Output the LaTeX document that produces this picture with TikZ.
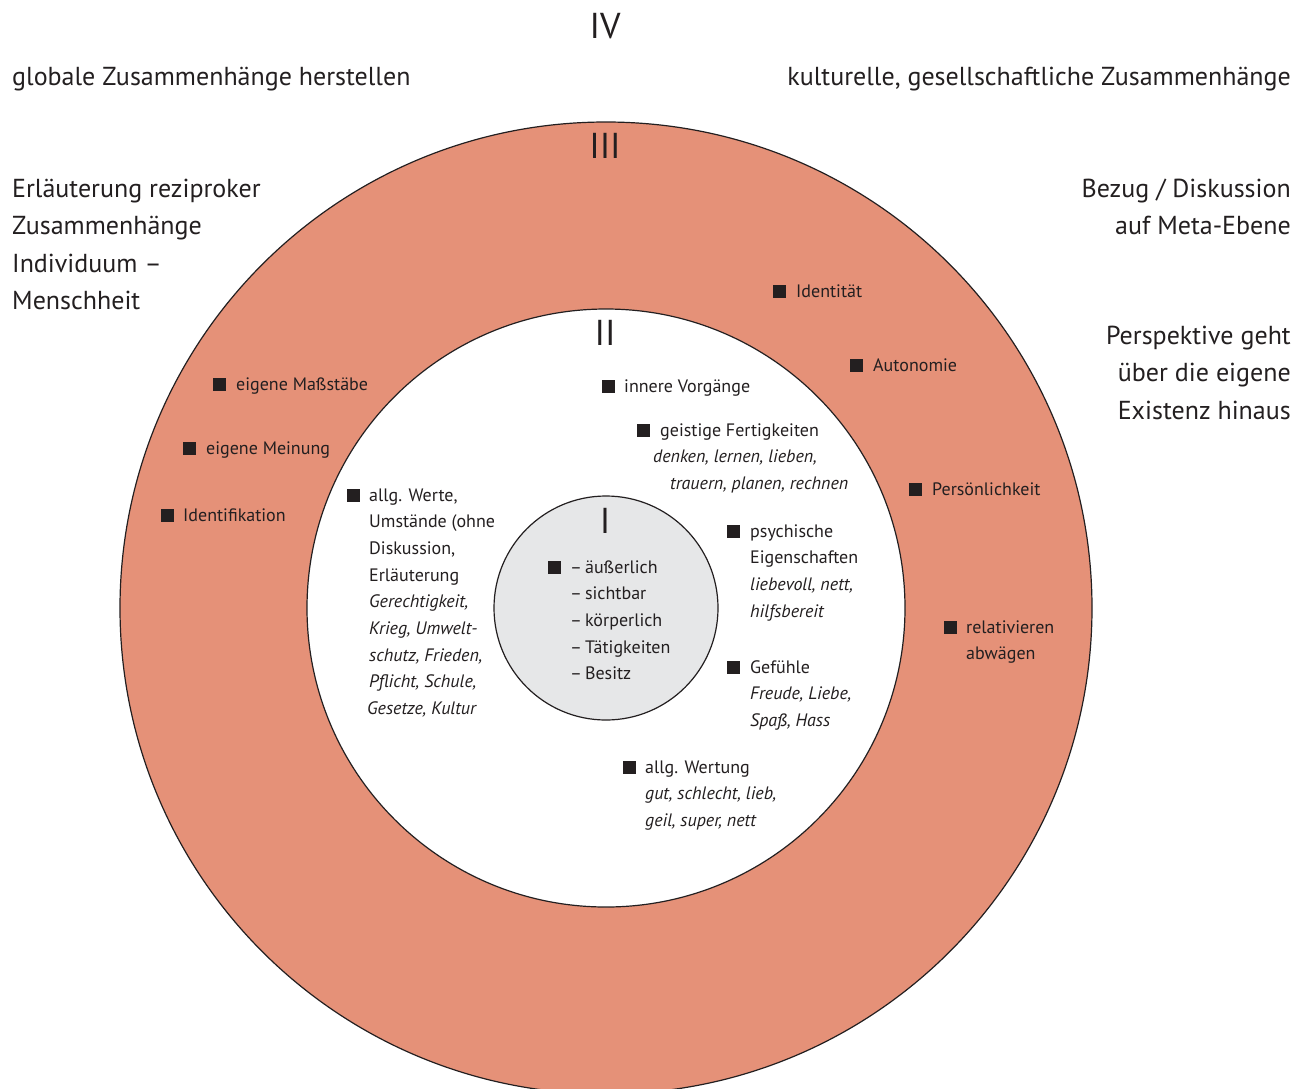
\documentclass[tikz,border=0pt]{standalone}
\usepackage{fontspec}
\setmainfont{PT Sans}
\definecolor{ring}{RGB}{229,145,120}
\definecolor{core}{RGB}{230,231,232}
\definecolor{ink}{RGB}{35,31,32}
\tikzset{
  txt/.style={anchor=base west, inner sep=0pt, align=left, text=ink,
    font=\fontsize{18}{26.7}\selectfont},
  big/.style={anchor=base west, inner sep=0pt, align=left, text=ink,
    font=\fontsize{26}{37.5}\selectfont},
  bigr/.style={big, anchor=base east, align=right},
  num/.style={anchor=base, inner sep=0pt, text=ink,
    font=\fontsize{36}{36}\selectfont},
  rim/.style={draw=ink, line width=1.2pt},
}
% square bullet, #2 = baseline of the line
\newcommand\bul[2]{\fill[ink] (#1,#2+0.5) rectangle ++(13,-13);}
\begin{document}
\begin{tikzpicture}[x=1pt,y=-1pt]
\useasboundingbox (0,0) rectangle (1304,1088);
\clip (0,0) rectangle (1304,1088);
% rings
\draw[rim, fill=ring] (606,608) circle (486);
\draw[rim, fill=white] (606,608) circle (299);
\draw[rim, fill=core] (606,608) circle (112);
% numerals
\node[num] (n4) at (605,38) {IV};
\node[num] (n3) at (605,158) {III};
\node[num] (n2) at (605,345) {II};
\node[num] (n1) at (605,533) {I};
% outside (multi-line nodes sit on their last baseline)
\node[big] (global) at (12,85) {globale Zusammenhänge herstellen};
\node[bigr] (kultur) at (1291,85) {kulturelle, gesellschaftliche Zusammenhänge};
\node[big] (rezi) at (12,309.5) {Erläuterung reziproker\\Zusammenhänge\\Individuum –\\Menschheit};
\node[bigr] (meta) at (1291,234.5) {Bezug / Diskussion\\auf Meta-Ebene};
\node[bigr] (persp) at (1291,419) {Perspektive geht\\über die eigene\\Existenz hinaus};
% ring III
\bul{773}{297} \node[txt] (ident) at (796,297) {Identität};
\bul{850}{371} \node[txt] (auto) at (873,371) {Autonomie};
\bul{909}{495} \node[txt] (pers) at (932,495) {Persönlichkeit};
\bul{944}{633} \node[txt] (rel) at (966,659.7) {relativieren\\abwägen};
\bul{213}{390} \node[txt] (mass) at (236,390) {eigene Maßstäbe};
\bul{183}{454} \node[txt] (mein) at (206,454) {eigene Meinung};
\bul{161}{521} \node[txt] (identi) at (183,521) {Identifikation};
% ring II
\bul{602}{392} \node[txt] (innen) at (624,392) {innere Vorgänge};
\bul{637}{436} \node[txt] (geist) at (660,436) {geistige Fertigkeiten};
\node[txt] (geistb) at (653,462) {\itshape denken, lernen, lieben,};
\node[txt] (geistc) at (670,489) {\itshape trauern, planen, rechnen};
\bul{727}{537} \node[txt] (psych) at (750,617.1) {psychische\\Eigenschaften\\\textit{liebevoll, nett,}\\\textit{hilfsbereit}};
\bul{727}{673} \node[txt] (gef) at (750,726.4) {Gefühle\\\textit{Freude, Liebe,}\\\textit{Spaß, Hass}};
\bul{623}{773} \node[txt] (wert) at (645,826.4) {allg. Wertung\\\textit{gut, schlecht, lieb,}\\\textit{geil, super, nett}};
\bul{347}{501} \node[txt] (werte) at (369,714.6) {allg. Werte,\\Umstände (ohne\\Diskussion,\\Erläuterung\\\textit{Gerechtigkeit,}\\\textit{Krieg, Umwelt-}\\\textit{schutz, Frieden,}\\\textit{Pflicht, Schule,}\\\hspace*{-2pt}\textit{Gesetze, Kultur}};
% ring I
\bul{548}{573} \node[txt] (aussen) at (570,679.8) {–\,äußerlich\\–\,sichtbar\\–\,körperlich\\–\,Tätigkeiten\\–\,Besitz};
\end{tikzpicture}
\end{document}
